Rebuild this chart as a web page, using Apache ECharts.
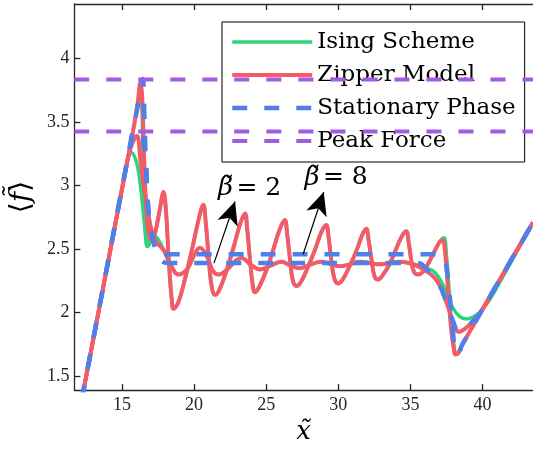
<!DOCTYPE html>
<html>
<head>
<meta charset="utf-8">
<script src="https://cdn.jsdelivr.net/npm/echarts@6/dist/echarts.min.js"></script>
<style>
  html, body { margin: 0; padding: 0; background: #fff; }
  #chart { width: 533px; height: 450px; }
</style>
</head>
<body>
<div id="chart"></div>
<script>
// axis ranges and ticks
const xRange = [11.7, 43.5];
const yRange = [1.39, 4.43];
const xTicks = [15, 20, 25, 30, 35, 40];
const yTicks = [1.5, 2, 2.5, 3, 3.5, 4];

// Ising scheme
const isingB2 = [[12.2,1.31],[14.8,2.86],[15.1,3.04],[15.4,3.2],[15.66,3.26],[15.9,3.22],[16.1,3.14],[16.3,2.98],[16.5,2.76],[16.66,2.6],[16.77,2.52],[17.0,2.58],[17.3,2.6],[17.6,2.56],[17.9,2.49],[18.4,2.37],[18.9,2.30],[19.5,2.34],[20.0,2.45],[20.4,2.51],[20.9,2.44],[21.3,2.33],[21.7,2.30],[22.3,2.34],[22.9,2.41],[23.3,2.43],[23.9,2.38],[24.56,2.34],[25.3,2.37],[26.06,2.40],[26.7,2.37],[27.33,2.35],[28.1,2.38],[28.8,2.40],[29.5,2.38],[30.1,2.365],[30.8,2.38],[31.5,2.40],[32.2,2.39],[32.86,2.38],[33.5,2.39],[34.25,2.40],[34.9,2.39],[35.63,2.37],[36.1,2.35],[36.55,2.33],[37.01,2.27],[37.47,2.17],[37.93,2.04],[38.4,1.97],[38.86,1.95],[39.55,1.98],[40.24,2.06],[40.9,2.18],[43.5,2.71]];
const isingB8 = [[12.2,1.31],[15.8,3.45],[16.0,3.57],[16.2,3.7],[16.3,3.77],[16.38,3.62],[16.45,3.25],[16.52,2.88],[16.62,2.62],[16.77,2.52],[17.0,2.56],[17.3,2.63],[17.6,2.8],[17.88,2.94],[18.05,2.8],[18.25,2.4],[18.45,2.1],[18.57,2.03],[18.9,2.08],[19.4,2.28],[19.9,2.52],[20.35,2.75],[20.64,2.85],[20.8,2.72],[21.0,2.45],[21.2,2.22],[21.45,2.14],[21.75,2.18],[22.25,2.33],[22.75,2.52],[23.2,2.7],[23.53,2.78],[23.68,2.66],[23.85,2.45],[24.05,2.23],[24.22,2.16],[24.5,2.2],[25.0,2.33],[25.5,2.5],[25.95,2.66],[26.29,2.73],[26.45,2.62],[26.65,2.42],[26.85,2.25],[27.1,2.21],[27.4,2.24],[27.9,2.36],[28.4,2.5],[28.85,2.64],[29.17,2.69],[29.32,2.6],[29.5,2.43],[29.72,2.27],[29.98,2.23],[30.3,2.26],[30.8,2.37],[31.3,2.5],[31.65,2.61],[31.94,2.66],[32.1,2.57],[32.3,2.42],[32.5,2.29],[32.75,2.26],[33.05,2.29],[33.55,2.38],[34.0,2.5],[34.4,2.6],[34.71,2.64],[34.87,2.56],[35.05,2.42],[35.25,2.32],[35.55,2.30],[35.85,2.32],[36.3,2.4],[36.75,2.5],[37.1,2.57],[37.33,2.59],[37.5,2.45],[37.7,2.15],[37.9,1.85],[38.05,1.72],[38.15,1.68],[38.3,1.68],[38.6,1.75],[43.5,2.71]];

// zipper model
const zipperB2 = [[12.2,1.31],[15.1,3.03],[15.4,3.21],[15.7,3.33],[16.04,3.39],[16.27,3.21],[16.5,3.0],[16.73,2.86],[16.96,2.69],[17.2,2.6],[17.42,2.55],[17.9,2.49],[18.4,2.37],[18.9,2.30],[19.5,2.34],[20.0,2.45],[20.4,2.51],[20.9,2.44],[21.3,2.33],[21.7,2.30],[22.3,2.34],[22.9,2.41],[23.3,2.43],[23.9,2.38],[24.56,2.34],[25.3,2.37],[26.06,2.40],[26.7,2.37],[27.33,2.35],[28.1,2.38],[28.8,2.40],[29.5,2.38],[30.1,2.365],[30.8,2.38],[31.5,2.40],[32.2,2.39],[32.86,2.38],[33.5,2.39],[34.25,2.40],[34.9,2.39],[35.4,2.37],[35.9,2.34],[36.32,2.31],[36.7,2.27],[37.0,2.22],[37.47,2.09],[37.93,1.94],[38.35,1.85],[38.86,1.88],[39.55,1.96],[39.8,1.99],[43.5,2.71]];
const zipperB8 = [[12.2,1.31],[15.5,3.27],[15.8,3.45],[16.1,3.66],[16.27,3.81],[16.4,3.7],[16.5,3.35],[16.62,2.95],[16.75,2.72],[16.9,2.6],[17.05,2.57],[17.3,2.63],[17.6,2.8],[17.88,2.95],[18.05,2.8],[18.25,2.4],[18.45,2.1],[18.57,2.03],[18.9,2.08],[19.4,2.28],[19.9,2.52],[20.35,2.75],[20.64,2.85],[20.8,2.72],[21.0,2.45],[21.2,2.22],[21.45,2.14],[21.75,2.18],[22.25,2.33],[22.75,2.52],[23.2,2.7],[23.53,2.78],[23.68,2.66],[23.85,2.45],[24.05,2.23],[24.22,2.16],[24.5,2.2],[25.0,2.33],[25.5,2.5],[25.95,2.66],[26.29,2.73],[26.45,2.62],[26.65,2.42],[26.85,2.25],[27.1,2.21],[27.4,2.24],[27.9,2.36],[28.4,2.5],[28.85,2.64],[29.17,2.69],[29.32,2.6],[29.5,2.43],[29.72,2.27],[29.98,2.23],[30.3,2.26],[30.8,2.37],[31.3,2.5],[31.65,2.61],[31.94,2.66],[32.1,2.57],[32.3,2.42],[32.5,2.29],[32.75,2.26],[33.05,2.29],[33.55,2.38],[34.0,2.5],[34.4,2.6],[34.71,2.64],[34.87,2.56],[35.05,2.42],[35.25,2.32],[35.55,2.30],[35.85,2.32],[36.3,2.4],[36.75,2.5],[37.05,2.56],[37.24,2.57],[37.4,2.48],[37.6,2.2],[37.8,1.9],[38.0,1.72],[38.12,1.67],[38.3,1.68],[38.6,1.75],[43.5,2.71]];

// stationary phase
const stationaryB2 = [[12.2,1.31],[15.3,3.16],[15.55,3.31],[15.72,3.41],[15.9,3.43],[16.35,3.43],[16.5,3.35],[16.65,3.2],[16.75,2.95],[16.85,2.78],[16.96,2.69],[17.2,2.55],[17.45,2.46],[17.7,2.41],[18.2,2.39],[35.5,2.39],[36.3,2.32],[37.0,2.22],[37.47,2.09],[37.93,1.94],[38.35,1.85],[38.86,1.88],[39.55,1.96],[39.8,1.99],[43.5,2.71]];
const stationaryB8 = [[12.2,1.31],[15.9,3.51],[16.2,3.69],[16.35,3.78],[16.45,3.84],[16.55,3.55],[16.65,3.2],[16.75,2.95],[16.85,2.78],[16.96,2.69],[17.2,2.56],[17.45,2.47],[17.65,2.44],[18.3,2.46],[37.2,2.46],[37.35,2.44],[37.55,2.32],[37.75,2.1],[37.95,1.85],[38.15,1.68],[38.3,1.68],[38.6,1.75],[43.5,2.71]];

// peak force levels
const peakForce = [3.836, 3.427];

// beta annotations: label anchor, arrow tail, arrow tip (data coords)
const betaLabels = ['2', '8'];
const labelAt = [[23.85, 2.98], [29.85, 3.06]];
const arrowFrom = [[21.38, 2.39], [27.56, 2.46]];
const arrowTo = [[22.84, 2.875], [28.99, 2.95]];

const green = '#2bd67a', red = '#f45a68', blue = '#4f7fe9', purple = '#a25ce4';
const ink = '#262626';
const dash = [15, 17];

function line(name, data, color, width, type, z) {
  return {
    name, type: 'line', data, symbol: 'none', smooth: 0.4,
    lineStyle: { color, width, type }, itemStyle: { color }, z, silent: true
  };
}

const chart = echarts.init(document.getElementById('chart'), null, { renderer: 'canvas' });
chart.setOption({
  animation: false,
  backgroundColor: '#fff',
  grid: { left: 74, right: 0, top: 4, bottom: 57 },
  xAxis: [{
    type: 'value', min: xRange[0], max: xRange[1], position: 'bottom',
    name: 'x\u0303', nameLocation: 'middle', nameGap: 28,
    nameTextStyle: { fontFamily: 'DejaVu Serif', fontStyle: 'italic', fontSize: 26, color: '#000' },
    axisLine: { lineStyle: { color: ink, width: 1.3 } },
    axisTick: { inside: true, length: 6, customValues: xTicks, lineStyle: { color: ink, width: 1.3 } },
    axisLabel: { customValues: xTicks, margin: 6, color: ink, fontFamily: 'Liberation Serif', fontSize: 18 },
    splitLine: { show: false }
  }, {
    type: 'value', min: xRange[0], max: xRange[1], position: 'top',
    axisLine: { lineStyle: { color: ink, width: 1.3 } },
    axisTick: { inside: true, length: 6, customValues: xTicks, lineStyle: { color: ink, width: 1.3 } },
    axisLabel: { show: false }, splitLine: { show: false }
  }],
  yAxis: {
    type: 'value', min: yRange[0], max: yRange[1],
    name: '{a|\u27E8}{b|f\u0303}{a|\u27E9}', nameLocation: 'middle', nameGap: 32, nameRotate: 90,
    nameTextStyle: {
      rich: {
        a: { fontFamily: 'DejaVu Serif', fontSize: 28, color: '#000' },
        b: { fontFamily: 'DejaVu Serif', fontStyle: 'italic', fontSize: 28, color: '#000' }
      }
    },
    axisLine: { show: true, lineStyle: { color: ink, width: 1.3 } },
    axisTick: { show: true, inside: true, length: 6, customValues: yTicks, lineStyle: { color: ink, width: 1.3 } },
    axisLabel: { customValues: yTicks, margin: 5, color: ink, fontFamily: 'Liberation Serif', fontSize: 18 },
    splitLine: { show: false }
  },
  legend: {
    data: ['Ising Scheme', 'Zipper Model', 'Stationary Phase', 'Peak Force'],
    orient: 'vertical', left: 222, top: 22,
    itemWidth: 80, itemHeight: 14, itemGap: 3,
    padding: [5, 9, 6, 8],
    backgroundColor: '#fff', borderColor: '#000', borderWidth: 1, borderRadius: 0,
    selectedMode: false,
    itemStyle: { opacity: 0 },
    lineStyle: { width: 'inherit' },
    textStyle: { fontFamily: 'DejaVu Serif', fontSize: 23, lineHeight: 30, color: '#000' }
  },
  series: [
    line('Ising Scheme', isingB2, green, 3.5, 'solid', 2),
    line('Ising Scheme', isingB8, green, 3.5, 'solid', 2),
    line('Zipper Model', zipperB2, red, 4, 'solid', 3),
    line('Zipper Model', zipperB8, red, 4, 'solid', 3),
    line('Stationary Phase', stationaryB2, blue, 4.5, dash, 4),
    line('Stationary Phase', stationaryB8, blue, 4.5, dash, 4),
    line('Peak Force', [[xRange[0], peakForce[0]], [xRange[1], peakForce[0]]], purple, 4, dash, 5),
    line('Peak Force', [[xRange[0], peakForce[1]], [xRange[1], peakForce[1]]], purple, 4, dash, 5),
    {
      type: 'line', data: [], z: 6, silent: true,
      markLine: {
        silent: true, animation: false,
        symbol: ['none', 'arrow'], symbolSize: [16, 23],
        lineStyle: { color: '#000', width: 1.2, type: 'solid' },
        label: { show: false },
        emphasis: { disabled: true },
        data: arrowFrom.map((p, i) => [{ coord: p }, { coord: arrowTo[i] }])
      }
    }
  ]
});

chart.setOption({
  graphic: betaLabels.map((v, i) => {
    const p = chart.convertToPixel({ xAxisIndex: 0, yAxisIndex: 0 }, labelAt[i]);
    return {
      type: 'text', x: p[0], y: p[1], z: 10,
      style: {
        text: '{b|\u03B2\u0303} {n|= ' + v + '}',
        align: 'center', verticalAlign: 'middle',
        rich: {
          b: { fontFamily: 'DejaVu Serif', fontStyle: 'italic', fontSize: 26, fill: '#000' },
          n: { fontFamily: 'DejaVu Serif', fontSize: 25, fill: '#000' }
        }
      }
    };
  })
});
</script>
</body>
</html>
